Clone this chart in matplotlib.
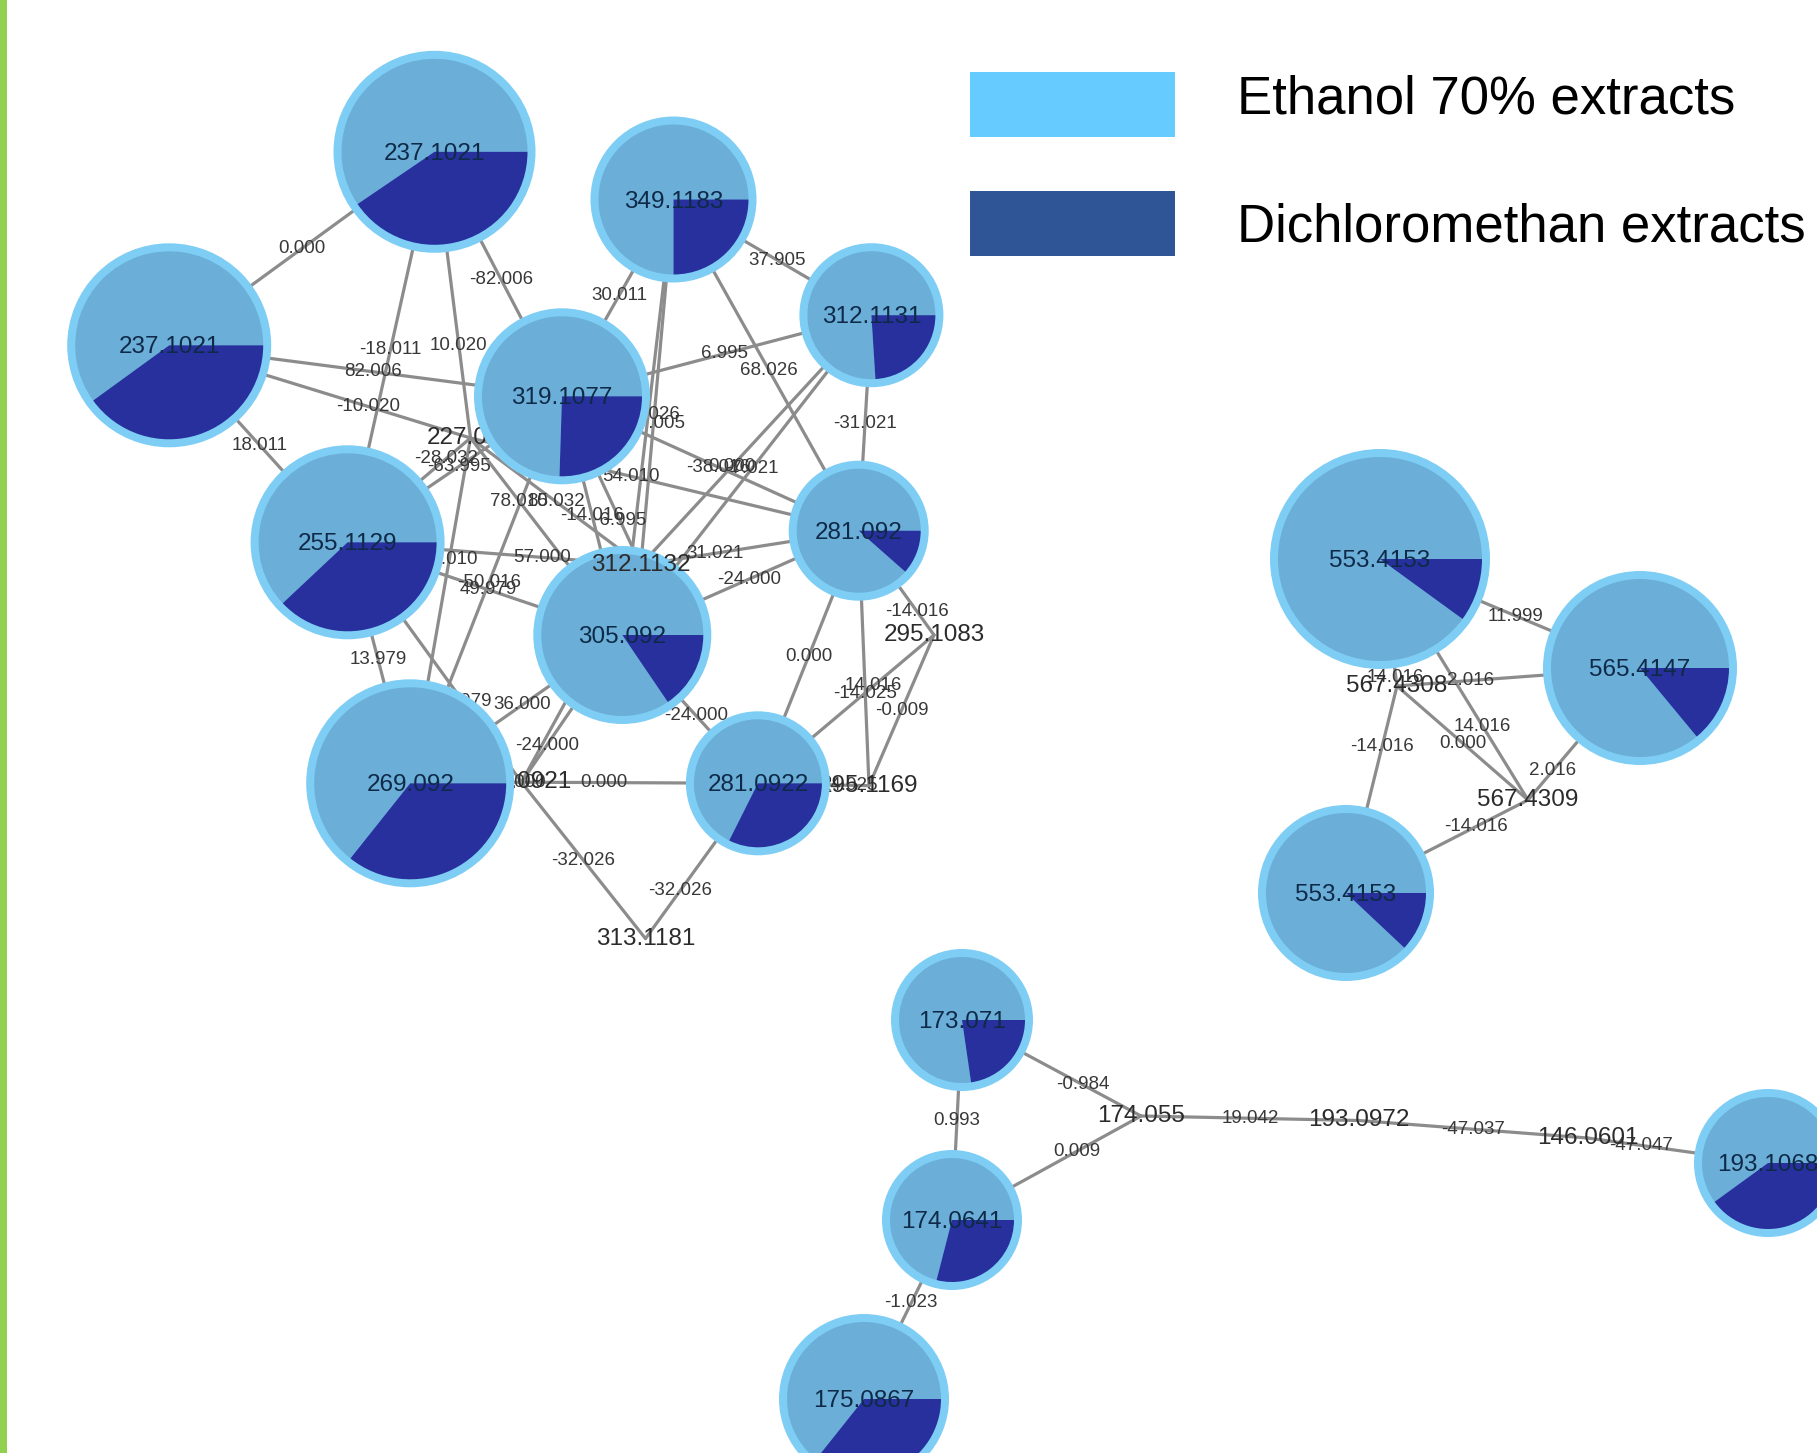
import numpy as np
import matplotlib
matplotlib.use("Agg")
import matplotlib.pyplot as plt
from matplotlib.patches import Circle, Wedge, Rectangle

plt.rcParams["font.family"] = ["Liberation Sans", "DejaVu Sans"]

# ---- nodes -------------------------------------------------------------
# id, displayed m/z label, layout position (px), outer radius (0 = label only),
# share of the Dichloromethan extracts in the pie (None = label only)
node_ids = ["A", "B", "C", "D", "E", "F", "G", "H", "I", "J",
            "K", "L", "M", "N", "O", "P", "Q",
            "T1", "T2", "T3", "T4", "T5", "T6", "T7", "T8", "T9", "T10", "T11"]
node_labels = ["237.1021", "237.1021", "319.1077", "349.1183", "312.1131",
               "255.1129", "281.092", "305.092", "269.092", "281.0922",
               "553.4153", "565.4147", "553.4153", "173.071", "174.0641",
               "175.0867", "193.1068",
               "312.1132", "295.1083", "313.1181", "295.1169", "227.082",
               "281.0921", "174.055", "193.0972", "146.0601", "567.4308",
               "567.4309"]
node_x = [434.5, 169.2, 562.0, 673.5, 871.4, 347.6, 858.7, 622.3, 410.2, 757.9,
          1380.0, 1640.0, 1346.0, 962.0, 952.0, 864.0, 1768.0,
          640.8, 934.0, 645.5, 869.0, 470.5, 521.5, 1141.0, 1359.0, 1587.6,
          1397.0, 1528.0]
node_y = [151.8, 345.3, 396.3, 199.5, 315.2, 542.3, 530.7, 635.0, 783.3, 783.3,
          559.0, 668.0, 893.0, 1020.0, 1220.0, 1399.0, 1163.0,
          565.0, 635.0, 938.6, 785.7, 438.0, 782.2, 1116.0, 1120.5, 1138.0,
          686.0, 800.0]
node_r = [101, 102, 88, 83, 72, 97, 70, 89, 104, 72,
          110, 97, 88, 71, 70, 85, 74,
          0, 0, 0, 0, 0, 0, 0, 0, 0, 0, 0]
node_dcm = [0.405, 0.40, 0.255, 0.25, 0.24, 0.38, 0.115, 0.155, 0.357, 0.324,
            0.10, 0.14, 0.12, 0.227, 0.29, 0.357, 0.40,
            None, None, None, None, None, None, None, None, None, None, None]
# label-only nodes whose text is painted above the pies
labels_on_top = ["T1"]

# ---- edges (mass differences) -----------------------------------------
edge_src = ["A", "A", "A", "A", "B", "B", "B", "C", "C", "C", "C", "C", "C", "C",
            "D", "D", "D", "D", "E", "E", "E", "F", "F", "F", "F", "F",
            "T5", "T5", "T5", "T5", "G", "G", "G", "G", "G",
            "H", "H", "H", "T6", "T6", "T6", "T6", "J", "J", "J", "T2",
            "K", "K", "T10", "T10", "T10", "K", "L", "M",
            "N", "N", "O", "O", "T7", "T8", "T9"]
edge_dst = ["B", "C", "F", "T5", "C", "T5", "F", "D", "E", "F", "G", "I", "H", "T1",
            "E", "G", "T1", "H", "G", "T1", "H", "T5", "T1", "H", "I", "T6",
            "H", "T1", "I", "G", "T1", "H", "J", "T2", "T4",
            "I", "T6", "J", "J", "I", "T3", "T1", "T3", "T2", "T4", "T4",
            "L", "T10", "L", "M", "T11", "T11", "T11", "T11",
            "O", "T7", "T7", "P", "T8", "T9", "Q"]
edge_labels = ["0.000", "-82.006", "-18.011", "10.020", "82.006", "-10.020", "18.011",
               "30.011", "6.995", "-63.995", "-38.016", "-50.016", "-14.016", "-6.995",
               "37.905", "68.026", "-37.005", "-44.026",
               "-31.021", "0.000", "-7.021",
               "-28.032", "57.000", "49.979", "13.979", "25.979",
               "78.010", "85.032", "42.010", "54.010",
               "31.021", "-24.000", "0.000", "-14.016", "-14.025",
               "36.000", "-24.000", "-24.000",
               "0.000", "12.000", "-32.026", "31.021",
               "-32.026", "14.016", "14.025", "-0.009",
               "11.999", "14.016", "2.016", "-14.016", "0.000", "14.016", "2.016", "-14.016",
               "0.993", "-0.984", "0.009", "-1.023", "19.042", "-47.037", "-47.047"]

# ---- legend -------------------------------------------------------------
legend_labels = ["Ethanol 70% extracts", "Dichloromethan extracts"]
legend_colors = ["#66CCFF", "#2F5597"]

# ---- colours ------------------------------------------------------------
RING = "#7ECDF5"
ETH = "#6BAED8"
DCM = "#27309C"
EDGE = "#8C8C8C"

W, H = 1817, 1453
fig = plt.figure(figsize=(W / 100, H / 100), dpi=100)
ax = fig.add_axes([0, 0, 1, 1])
ax.set_xlim(0, W)
ax.set_ylim(H, 0)
ax.axis("off")

idx = {k: i for i, k in enumerate(node_ids)}
xy = np.column_stack([node_x, node_y])

# edges, drawn centre to centre beneath the nodes; the label sits halfway
# along the visible part of the edge
for s, d, lab in zip(edge_src, edge_dst, edge_labels):
    i, j = idx[s], idx[d]
    p, q = xy[i], xy[j]
    ax.plot([p[0], q[0]], [p[1], q[1]], color=EDGE, lw=2.3,
            solid_capstyle="round", zorder=1)
    u = (q - p) / np.hypot(*(q - p))
    a = p + u * node_r[i]
    b = q - u * node_r[j]
    m = (a + b) / 2
    ax.text(m[0], m[1], lab, ha="center", va="center", fontsize=13.5,
            color="#383838", zorder=2)

# label-only nodes
for i, lab in enumerate(node_labels):
    if node_r[i] == 0:
        z = 5 if node_ids[i] in labels_on_top else 2
        ax.text(node_x[i], node_y[i], lab, ha="center", va="center",
                fontsize=17.5, color="#2b2b2b", zorder=z)

# pie nodes
ring_w = 8
for i, lab in enumerate(node_labels):
    r = node_r[i]
    if r == 0:
        continue
    cx, cy = node_x[i], node_y[i]
    ax.add_patch(Circle((cx, cy), r, facecolor=RING, edgecolor="none", zorder=3))
    ri = r - ring_w
    ang = 360 * node_dcm[i]
    ax.add_patch(Wedge((cx, cy), ri, ang, 360, facecolor=ETH, edgecolor="none", zorder=3))
    ax.add_patch(Wedge((cx, cy), ri, 0, ang, facecolor=DCM, edgecolor="none", zorder=3))
    ax.text(cx, cy + 2, lab, ha="center", va="center", fontsize=17.5,
            color="#0E2A48", zorder=4)

# legend
legend_box_y = [72, 191]
legend_text_base = [114, 242]
for lab, col, by, ty in zip(legend_labels, legend_colors, legend_box_y, legend_text_base):
    ax.add_patch(Rectangle((970, by), 205, 65, facecolor=col, edgecolor="none", zorder=5))
    ax.text(1237, ty, lab, ha="left", va="baseline", fontsize=38,
            color="black", zorder=5)

# green border on the left
ax.add_patch(Rectangle((0, 0), 7, H, facecolor="#92D050", edgecolor="none", zorder=6))

fig.savefig("out.png", dpi=100)
